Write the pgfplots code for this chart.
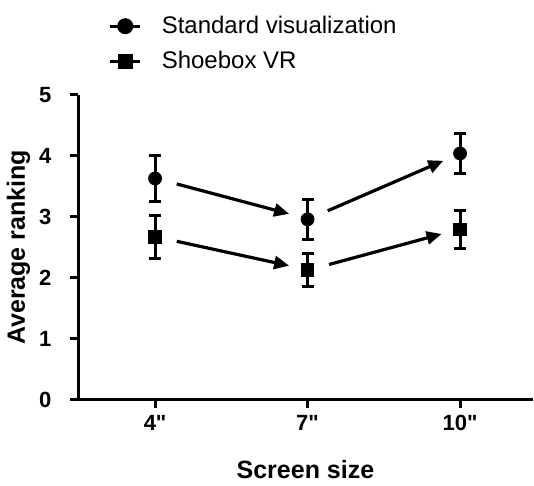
\documentclass[border=0pt]{standalone}
\usepackage{pgfplots}
\pgfplotsset{compat=1.18}
\usepackage{fontspec}
\setmainfont{Liberation Sans}
\usetikzlibrary{arrows.meta}
\begin{document}
\begin{tikzpicture}
\begin{axis}[
  scale only axis,
  width=227pt, height=152.5pt,
  xmin=-0.503, xmax=2.475,
  ymin=0, ymax=5,
  axis x line*=bottom, axis y line*=left,
  axis line style={line width=1.5pt, -},
  xtick={0,1,2}, xticklabels={4\textquotedbl,7\textquotedbl,10\textquotedbl},
  ytick={0,1,2,3,4,5},
  tick align=outside,
  major tick length=4pt,
  every tick/.style={black, line width=1.5pt},
  /pgf/number format/assume math mode=true,
  ticklabel style={font=\bfseries\fontsize{11}{13}\selectfont},
  yticklabel style={xshift=-6pt},
  xlabel={Screen size}, ylabel={Average ranking},
  every axis x label/.style={at={(axis description cs:0.5,0)}, yshift=-35pt, anchor=center, font=\bfseries\fontsize{12.5}{14}\selectfont},
  every axis y label/.style={at={(axis description cs:0,0.5)}, xshift=-30pt, rotate=90, anchor=center, font=\bfseries\fontsize{12.5}{14}\selectfont},
  legend style={at={(rel axis cs:0.066,1.273)}, anchor=north west, draw=none, fill=none, inner sep=0pt, row sep=3.5pt,
    font=\fontsize{12}{14}\selectfont, nodes={inner xsep=4pt},
    /tikz/every odd column/.append style={column sep=6pt}},
  legend cell align=left,
  legend image code/.code={\draw[sharp plot, line width=1.5pt, mark repeat=2, mark phase=2] plot coordinates {(0pt,0pt) (7.5pt,0pt) (15pt,0pt)};},
  clip=false,
]
\path (rel axis cs:0,1.311) -- (rel axis cs:1,1.311);
\addplot[black, only marks, mark=*, mark size=3.25pt,
  error bars/.cd, y dir=both, y explicit,
  error bar style={line width=1.5pt},
  error mark options={rotate=90, mark size=3pt, line width=1.5pt}]
  coordinates {(0,3.63) +- (0,0.37) (1,2.96) +- (0,0.33) (2,4.04) +- (0,0.33)};
\addlegendentry{Standard visualization}
\addplot[black, only marks, mark=square*, mark size=3.1pt,
  error bars/.cd, y dir=both, y explicit,
  error bar style={line width=1.5pt},
  error mark options={rotate=90, mark size=3pt, line width=1.5pt}]
  coordinates {(0,2.67) +- (0,0.35) (1,2.13) +- (0,0.27) (2,2.80) +- (0,0.31)};
\addlegendentry{Shoebox VR}
\addplot[black, line width=1.6pt, -{Triangle[length=7.5pt, width=6.5pt]}, forget plot] coordinates {(0.142,3.54) (0.879,3.05)};
\addplot[black, line width=1.6pt, -{Triangle[length=7.5pt, width=6.5pt]}, forget plot] coordinates {(1.132,3.10) (1.89,3.92)};
\addplot[black, line width=1.6pt, -{Triangle[length=7.5pt, width=6.5pt]}, forget plot] coordinates {(0.142,2.60) (0.879,2.20)};
\addplot[black, line width=1.6pt, -{Triangle[length=7.5pt, width=6.5pt]}, forget plot] coordinates {(1.141,2.22) (1.879,2.72)};
\end{axis}
\end{tikzpicture}
\end{document}
